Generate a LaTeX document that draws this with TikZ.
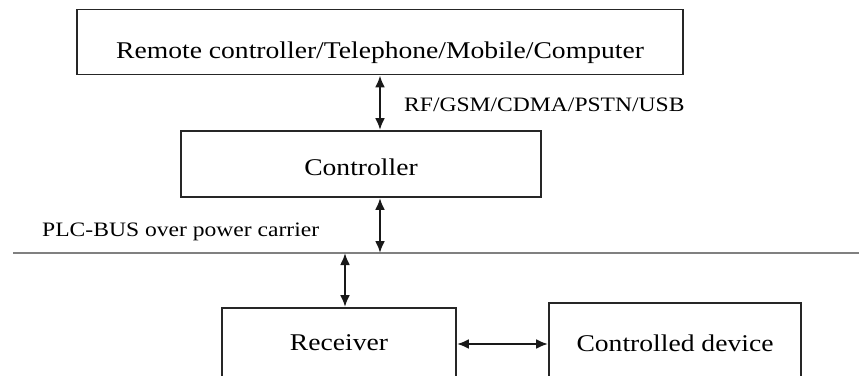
\documentclass[tikz,border=0pt]{standalone}
\usepackage{fontspec}
\setmainfont{Liberation Serif}[FakeStretch=1.15]
\usetikzlibrary{positioning}
\usetikzlibrary{arrows.meta}

\begin{document}
\begin{tikzpicture}[x=1pt,y=-1pt]
  \tikzstyle{box}=[rectangle, draw=black!85, line width=1.9pt, inner sep=0pt, font=\fontsize{24}{28}\selectfont]
  \tikzstyle{lbl}=[inner sep=0pt, anchor=west, font=\fontsize{20.5}{24}\selectfont]
  \tikzstyle{link}=[{Latex[length=12pt,width=10pt]}-{Latex[length=12pt,width=10pt]}, line width=2.2pt, black!90]
  \useasboundingbox (0,0) rectangle (859,375);
  \node [box, minimum width=606pt, minimum height=65pt, text height=33pt, text depth=1pt] at (380,42) (remote) {Remote controller/Telephone/Mobile/Computer};
  \node [box, minimum width=360pt, minimum height=66pt, text height=23pt, text depth=0.5pt] at (361,164) (ctrl) {Controller};
  \node [box, minimum width=234pt, minimum height=72pt, text height=12.5pt, text depth=0.5pt] at (339,344) (recv) {Receiver};
  \node [box, minimum width=252pt, minimum height=80pt] at (675,343) (dev) {Controlled device};
  \node [lbl] at (404,105) (rf) {RF/GSM/CDMA/PSTN/USB};
  \node [lbl] at (42,232) (plc) {PLC-BUS over power carrier};
  % power line
  \coordinate (busL) at (13,253);
  \coordinate (busR) at (859,253);
  \coordinate (tap) at (345,253);
  \draw [line width=2.5pt, black!50] (busL) -- (busR);
  \draw [link] (remote.south) -- (remote.south |- ctrl.north);
  \draw [link] (remote.south |- ctrl.south) -- (remote.south |- busL);
  \draw [link] (tap) -- (tap |- recv.north);
  \draw [link] (recv.east) -- (recv.east -| dev.west);
\end{tikzpicture}
\end{document}
